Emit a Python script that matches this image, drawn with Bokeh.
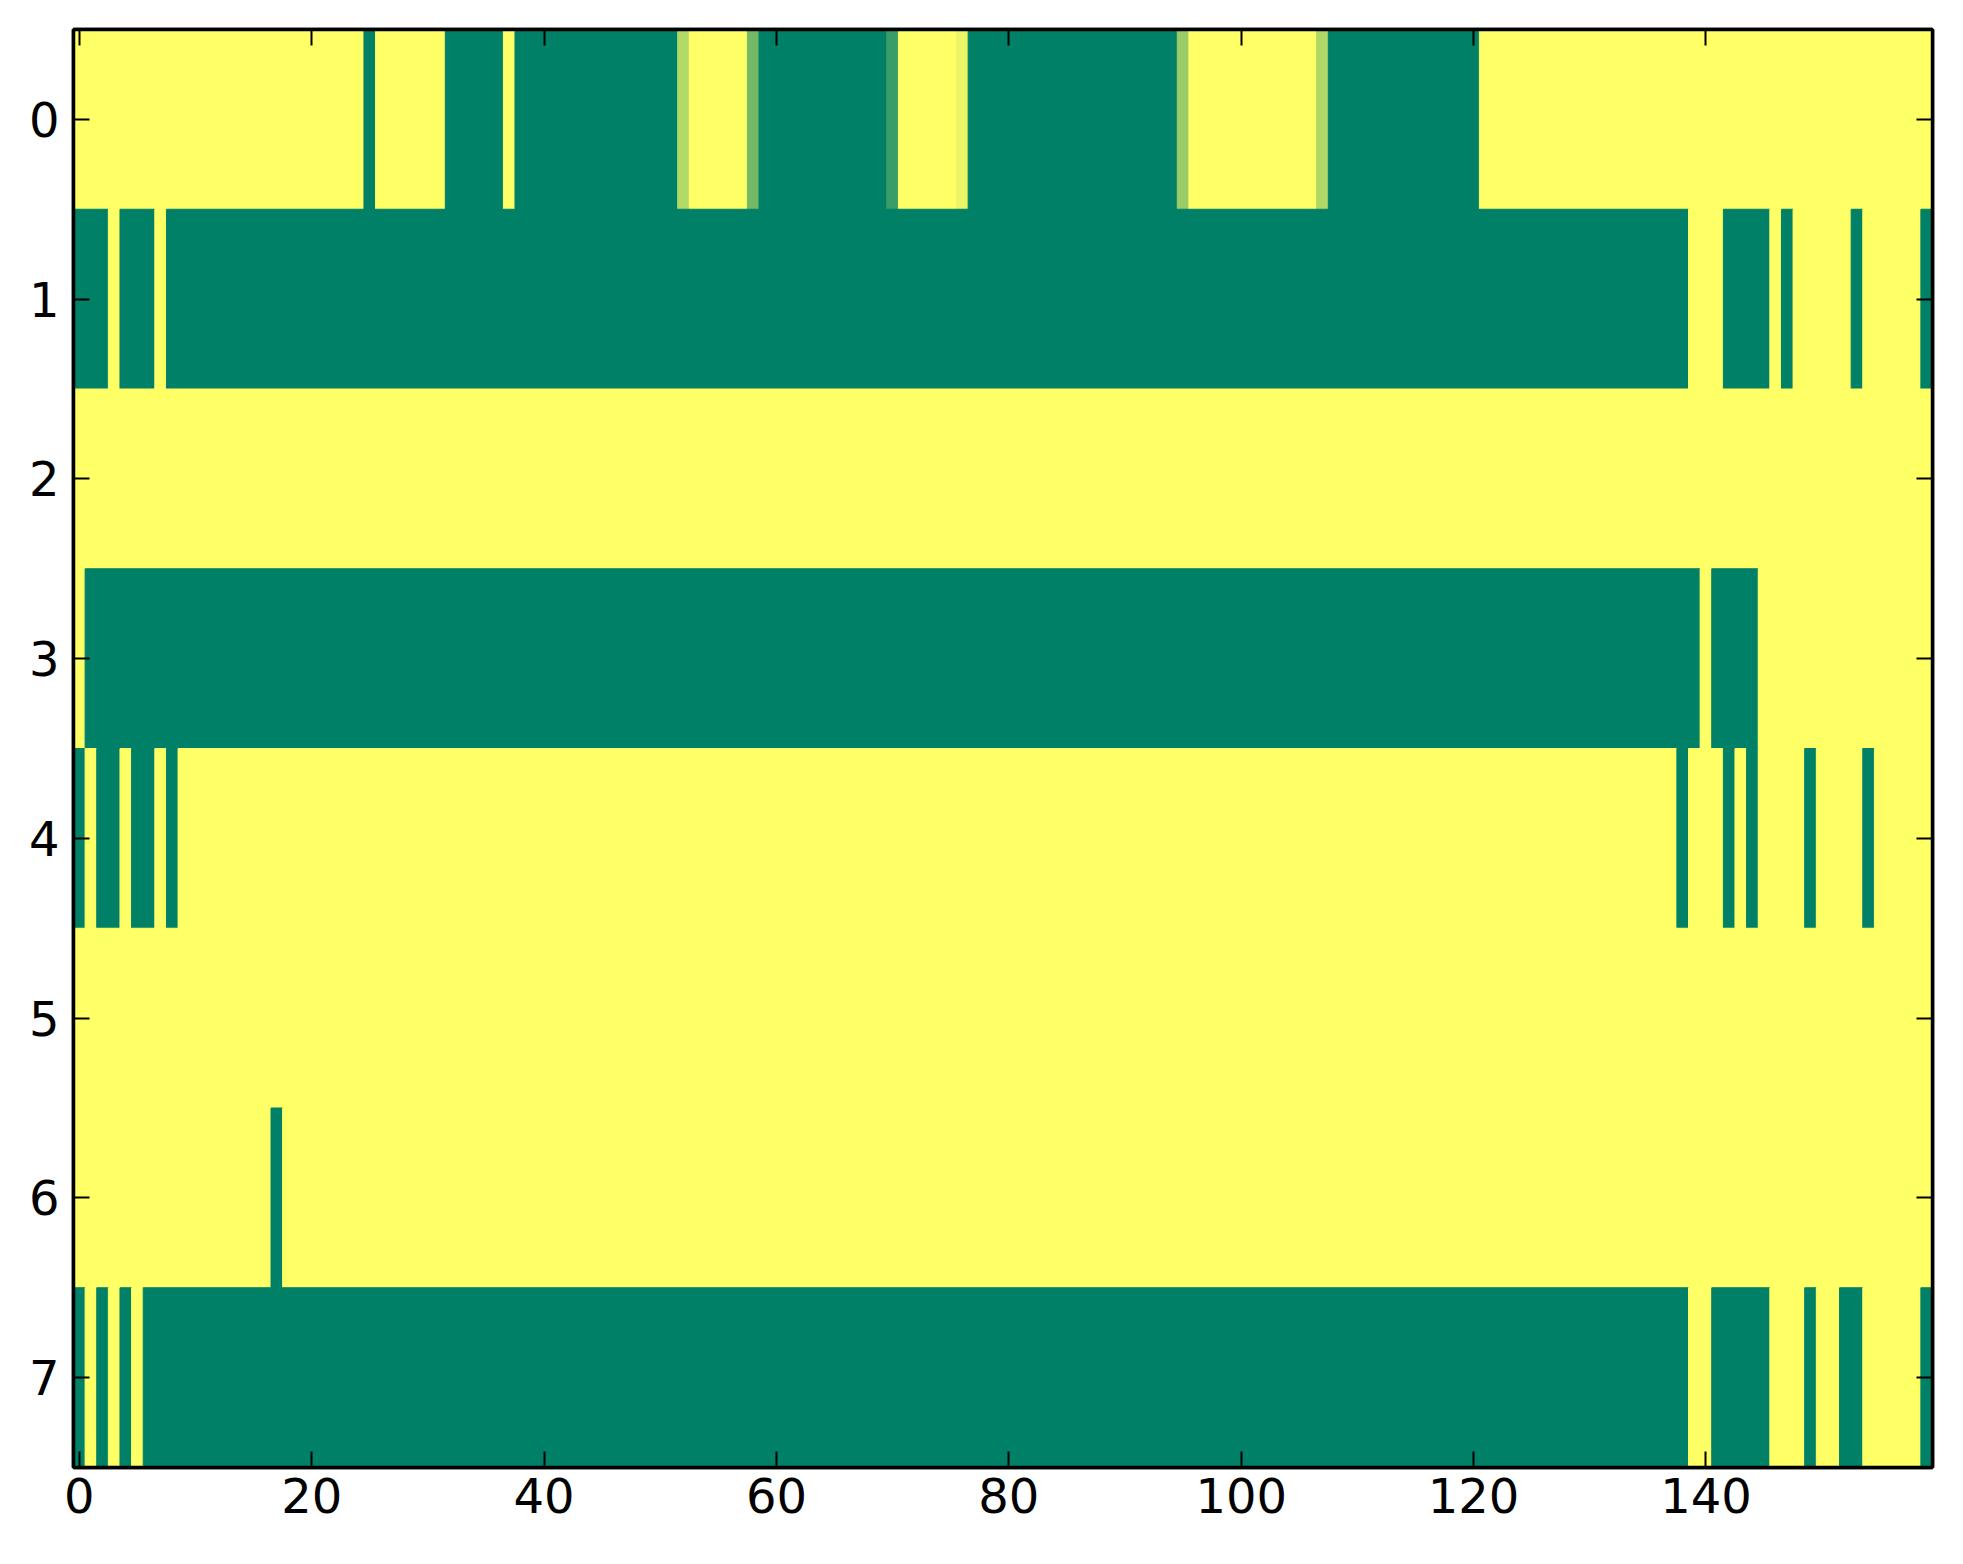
from bokeh.plotting import figure
from bokeh.models import Range1d, LinearColorMapper, ColumnDataSource, LinearAxis, FixedTicker
from bokeh.embed import file_html
from bokeh.resources import INLINE

# ---- data: 8 rows x 160 columns (1 = yellow, 0 = green) ----
row0 = [
    1, 1, 1, 1, 1, 1, 1, 1, 1, 1,
    1, 1, 1, 1, 1, 1, 1, 1, 1, 1,
    1, 1, 1, 1, 1, 0, 1, 1, 1, 1,
    1, 1, 0, 0, 0, 0, 0, 1, 0, 0,
    0, 0, 0, 0, 0, 0, 0, 0, 0, 0,
    0, 0, 0.7, 1, 1, 1, 1, 1, 0.45, 0,
    0, 0, 0, 0, 0, 0, 0, 0, 0, 0,
    0.23, 1, 1, 1, 1, 1, 0.92, 0, 0, 0,
    0, 0, 0, 0, 0, 0, 0, 0, 0, 0,
    0, 0, 0, 0, 0, 0.6, 1, 1, 1, 1,
    1, 1, 1, 1, 1, 1, 1, 0.69, 0, 0,
    0, 0, 0, 0, 0, 0, 0, 0, 0, 0,
    0, 1, 1, 1, 1, 1, 1, 1, 1, 1,
    1, 1, 1, 1, 1, 1, 1, 1, 1, 1,
    1, 1, 1, 1, 1, 1, 1, 1, 1, 1,
    1, 1, 1, 1, 1, 1, 1, 1, 1, 1,
]
row1 = [
    0, 0, 0, 1, 0, 0, 0, 1, 0, 0,
    0, 0, 0, 0, 0, 0, 0, 0, 0, 0,
    0, 0, 0, 0, 0, 0, 0, 0, 0, 0,
    0, 0, 0, 0, 0, 0, 0, 0, 0, 0,
    0, 0, 0, 0, 0, 0, 0, 0, 0, 0,
    0, 0, 0, 0, 0, 0, 0, 0, 0, 0,
    0, 0, 0, 0, 0, 0, 0, 0, 0, 0,
    0, 0, 0, 0, 0, 0, 0, 0, 0, 0,
    0, 0, 0, 0, 0, 0, 0, 0, 0, 0,
    0, 0, 0, 0, 0, 0, 0, 0, 0, 0,
    0, 0, 0, 0, 0, 0, 0, 0, 0, 0,
    0, 0, 0, 0, 0, 0, 0, 0, 0, 0,
    0, 0, 0, 0, 0, 0, 0, 0, 0, 0,
    0, 0, 0, 0, 0, 0, 0, 0, 0, 1,
    1, 1, 0, 0, 0, 0, 1, 0, 1, 1,
    1, 1, 1, 0, 1, 1, 1, 1, 1, 0,
]
row2 = [
    1, 1, 1, 1, 1, 1, 1, 1, 1, 1,
    1, 1, 1, 1, 1, 1, 1, 1, 1, 1,
    1, 1, 1, 1, 1, 1, 1, 1, 1, 1,
    1, 1, 1, 1, 1, 1, 1, 1, 1, 1,
    1, 1, 1, 1, 1, 1, 1, 1, 1, 1,
    1, 1, 1, 1, 1, 1, 1, 1, 1, 1,
    1, 1, 1, 1, 1, 1, 1, 1, 1, 1,
    1, 1, 1, 1, 1, 1, 1, 1, 1, 1,
    1, 1, 1, 1, 1, 1, 1, 1, 1, 1,
    1, 1, 1, 1, 1, 1, 1, 1, 1, 1,
    1, 1, 1, 1, 1, 1, 1, 1, 1, 1,
    1, 1, 1, 1, 1, 1, 1, 1, 1, 1,
    1, 1, 1, 1, 1, 1, 1, 1, 1, 1,
    1, 1, 1, 1, 1, 1, 1, 1, 1, 1,
    1, 1, 1, 1, 1, 1, 1, 1, 1, 1,
    1, 1, 1, 1, 1, 1, 1, 1, 1, 1,
]
row3 = [
    1, 0, 0, 0, 0, 0, 0, 0, 0, 0,
    0, 0, 0, 0, 0, 0, 0, 0, 0, 0,
    0, 0, 0, 0, 0, 0, 0, 0, 0, 0,
    0, 0, 0, 0, 0, 0, 0, 0, 0, 0,
    0, 0, 0, 0, 0, 0, 0, 0, 0, 0,
    0, 0, 0, 0, 0, 0, 0, 0, 0, 0,
    0, 0, 0, 0, 0, 0, 0, 0, 0, 0,
    0, 0, 0, 0, 0, 0, 0, 0, 0, 0,
    0, 0, 0, 0, 0, 0, 0, 0, 0, 0,
    0, 0, 0, 0, 0, 0, 0, 0, 0, 0,
    0, 0, 0, 0, 0, 0, 0, 0, 0, 0,
    0, 0, 0, 0, 0, 0, 0, 0, 0, 0,
    0, 0, 0, 0, 0, 0, 0, 0, 0, 0,
    0, 0, 0, 0, 0, 0, 0, 0, 0, 0,
    1, 0, 0, 0, 0, 1, 1, 1, 1, 1,
    1, 1, 1, 1, 1, 1, 1, 1, 1, 1,
]
row4 = [
    0, 1, 0, 0, 1, 0, 0, 1, 0, 1,
    1, 1, 1, 1, 1, 1, 1, 1, 1, 1,
    1, 1, 1, 1, 1, 1, 1, 1, 1, 1,
    1, 1, 1, 1, 1, 1, 1, 1, 1, 1,
    1, 1, 1, 1, 1, 1, 1, 1, 1, 1,
    1, 1, 1, 1, 1, 1, 1, 1, 1, 1,
    1, 1, 1, 1, 1, 1, 1, 1, 1, 1,
    1, 1, 1, 1, 1, 1, 1, 1, 1, 1,
    1, 1, 1, 1, 1, 1, 1, 1, 1, 1,
    1, 1, 1, 1, 1, 1, 1, 1, 1, 1,
    1, 1, 1, 1, 1, 1, 1, 1, 1, 1,
    1, 1, 1, 1, 1, 1, 1, 1, 1, 1,
    1, 1, 1, 1, 1, 1, 1, 1, 1, 1,
    1, 1, 1, 1, 1, 1, 1, 1, 0, 1,
    1, 1, 0, 1, 0, 1, 1, 1, 1, 0,
    1, 1, 1, 1, 0, 1, 1, 1, 1, 1,
]
row5 = [
    1, 1, 1, 1, 1, 1, 1, 1, 1, 1,
    1, 1, 1, 1, 1, 1, 1, 1, 1, 1,
    1, 1, 1, 1, 1, 1, 1, 1, 1, 1,
    1, 1, 1, 1, 1, 1, 1, 1, 1, 1,
    1, 1, 1, 1, 1, 1, 1, 1, 1, 1,
    1, 1, 1, 1, 1, 1, 1, 1, 1, 1,
    1, 1, 1, 1, 1, 1, 1, 1, 1, 1,
    1, 1, 1, 1, 1, 1, 1, 1, 1, 1,
    1, 1, 1, 1, 1, 1, 1, 1, 1, 1,
    1, 1, 1, 1, 1, 1, 1, 1, 1, 1,
    1, 1, 1, 1, 1, 1, 1, 1, 1, 1,
    1, 1, 1, 1, 1, 1, 1, 1, 1, 1,
    1, 1, 1, 1, 1, 1, 1, 1, 1, 1,
    1, 1, 1, 1, 1, 1, 1, 1, 1, 1,
    1, 1, 1, 1, 1, 1, 1, 1, 1, 1,
    1, 1, 1, 1, 1, 1, 1, 1, 1, 1,
]
row6 = [
    1, 1, 1, 1, 1, 1, 1, 1, 1, 1,
    1, 1, 1, 1, 1, 1, 1, 0, 1, 1,
    1, 1, 1, 1, 1, 1, 1, 1, 1, 1,
    1, 1, 1, 1, 1, 1, 1, 1, 1, 1,
    1, 1, 1, 1, 1, 1, 1, 1, 1, 1,
    1, 1, 1, 1, 1, 1, 1, 1, 1, 1,
    1, 1, 1, 1, 1, 1, 1, 1, 1, 1,
    1, 1, 1, 1, 1, 1, 1, 1, 1, 1,
    1, 1, 1, 1, 1, 1, 1, 1, 1, 1,
    1, 1, 1, 1, 1, 1, 1, 1, 1, 1,
    1, 1, 1, 1, 1, 1, 1, 1, 1, 1,
    1, 1, 1, 1, 1, 1, 1, 1, 1, 1,
    1, 1, 1, 1, 1, 1, 1, 1, 1, 1,
    1, 1, 1, 1, 1, 1, 1, 1, 1, 1,
    1, 1, 1, 1, 1, 1, 1, 1, 1, 1,
    1, 1, 1, 1, 1, 1, 1, 1, 1, 1,
]
row7 = [
    0, 1, 0, 1, 0, 1, 0, 0, 0, 0,
    0, 0, 0, 0, 0, 0, 0, 0, 0, 0,
    0, 0, 0, 0, 0, 0, 0, 0, 0, 0,
    0, 0, 0, 0, 0, 0, 0, 0, 0, 0,
    0, 0, 0, 0, 0, 0, 0, 0, 0, 0,
    0, 0, 0, 0, 0, 0, 0, 0, 0, 0,
    0, 0, 0, 0, 0, 0, 0, 0, 0, 0,
    0, 0, 0, 0, 0, 0, 0, 0, 0, 0,
    0, 0, 0, 0, 0, 0, 0, 0, 0, 0,
    0, 0, 0, 0, 0, 0, 0, 0, 0, 0,
    0, 0, 0, 0, 0, 0, 0, 0, 0, 0,
    0, 0, 0, 0, 0, 0, 0, 0, 0, 0,
    0, 0, 0, 0, 0, 0, 0, 0, 0, 0,
    0, 0, 0, 0, 0, 0, 0, 0, 0, 1,
    1, 0, 0, 0, 0, 0, 1, 1, 1, 0,
    1, 1, 0, 0, 1, 1, 1, 1, 1, 0,
]
rows = [row0, row1, row2, row3, row4, row5, row6, row7]

x_ticks = [0, 20, 40, 60, 80, 100, 120, 140]
y_ticks = [0, 1, 2, 3, 4, 5, 6, 7]

# matplotlib "summer" colormap as a 256-colour palette
palette = []
for i in range(256):
    t = i / 255.0
    palette.append("#%02x%02x%02x" % (int(round(255 * t)), int(round(255 * (0.5 + 0.5 * t))), 102))
mapper = LinearColorMapper(palette=palette, low=0, high=1)

# merge consecutive equal cells of each row into one rectangle
left, right, top, bottom, val = [], [], [], [], []
for r, row in enumerate(rows):
    c = 0
    n = len(row)
    while c < n:
        e = c
        while e + 1 < n and row[e + 1] == row[c]:
            e += 1
        left.append(c - 0.5)
        right.append(e + 0.5)
        top.append(r - 0.5)
        bottom.append(r + 0.5)
        val.append(row[c])
        c = e + 1
src = ColumnDataSource(dict(left=left, right=right, top=top, bottom=bottom, v=val))

ncols = len(row0)
nrows = len(rows)
p = figure(width=1955, height=1555,
           x_range=Range1d(-0.5, ncols - 0.5), y_range=Range1d(nrows - 0.5, -0.5),
           output_backend="svg", toolbar_location=None)
p.min_border_left = 73
p.min_border_right = 23
p.min_border_top = 29
p.min_border_bottom = 88
p.xgrid.visible = False
p.ygrid.visible = False
p.outline_line_color = "black"
p.outline_line_width = 3.5
p.background_fill_color = "white"

p.quad(left="left", right="right", top="top", bottom="bottom", source=src,
       fill_color={"field": "v", "transform": mapper},
       line_color={"field": "v", "transform": mapper}, line_width=1)

p.add_layout(LinearAxis(), "above")
p.add_layout(LinearAxis(), "right")

for ax in p.xaxis:
    ax.ticker = FixedTicker(ticks=x_ticks)
for ax in p.yaxis:
    ax.ticker = FixedTicker(ticks=y_ticks)

for ax in p.axis:
    ax.axis_line_width = 3.5
    ax.axis_line_color = "black"
    ax.major_tick_in = 16
    ax.major_tick_out = 0
    ax.major_tick_line_width = 2
    ax.major_tick_line_color = "black"
    ax.minor_tick_line_color = None
    ax.major_label_text_font = "DejaVu Sans"
    ax.major_label_text_font_size = "48px"
    ax.major_label_text_color = "black"

p.below[0].major_label_standoff = 10
p.left[0].major_label_standoff = 14
p.above[0].major_label_overrides = {t: "" for t in x_ticks}
p.right[0].major_label_overrides = {t: "" for t in y_ticks}
for ax in (p.above[0], p.right[0]):
    ax.major_label_text_font_size = "1px"
    ax.major_label_standoff = 0

open("out.html", "w").write(file_html(p, INLINE))
